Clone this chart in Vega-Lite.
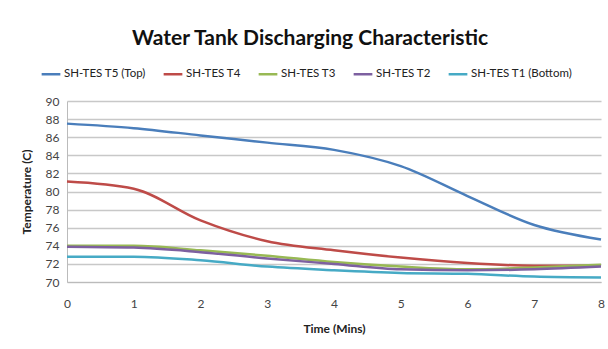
{
  "$schema": "https://vega.github.io/schema/vega-lite/v6.json",
  "width": 534,
  "height": 181,
  "autosize": "none",
  "padding": {"left": 67, "top": 101, "right": 7, "bottom": 67},
  "background": "white",
  "title": {
    "text": "Water Tank Discharging Characteristic",
    "font": "Lato",
    "fontSize": 21,
    "fontWeight": "bold",
    "color": "#111111",
    "anchor": "middle",
    "dx": -24,
    "offset": 14
  },
  "data": {
    "values": [
      {"t": 0, "s": "SH-TES T5 (Top)", "v": 87.5},
      {"t": 1, "s": "SH-TES T5 (Top)", "v": 87.0},
      {"t": 2, "s": "SH-TES T5 (Top)", "v": 86.2},
      {"t": 3, "s": "SH-TES T5 (Top)", "v": 85.4},
      {"t": 4, "s": "SH-TES T5 (Top)", "v": 84.6},
      {"t": 5, "s": "SH-TES T5 (Top)", "v": 82.8},
      {"t": 6, "s": "SH-TES T5 (Top)", "v": 79.5},
      {"t": 7, "s": "SH-TES T5 (Top)", "v": 76.3},
      {"t": 8, "s": "SH-TES T5 (Top)", "v": 74.7},
      {"t": 0, "s": "SH-TES T4", "v": 81.1},
      {"t": 1, "s": "SH-TES T4", "v": 80.3},
      {"t": 2, "s": "SH-TES T4", "v": 76.8},
      {"t": 3, "s": "SH-TES T4", "v": 74.5},
      {"t": 4, "s": "SH-TES T4", "v": 73.5},
      {"t": 5, "s": "SH-TES T4", "v": 72.7},
      {"t": 6, "s": "SH-TES T4", "v": 72.1},
      {"t": 7, "s": "SH-TES T4", "v": 71.8},
      {"t": 8, "s": "SH-TES T4", "v": 71.8},
      {"t": 0, "s": "SH-TES T3", "v": 74.0},
      {"t": 1, "s": "SH-TES T3", "v": 74.0},
      {"t": 2, "s": "SH-TES T3", "v": 73.5},
      {"t": 3, "s": "SH-TES T3", "v": 72.9},
      {"t": 4, "s": "SH-TES T3", "v": 72.2},
      {"t": 5, "s": "SH-TES T3", "v": 71.7},
      {"t": 6, "s": "SH-TES T3", "v": 71.4},
      {"t": 7, "s": "SH-TES T3", "v": 71.6},
      {"t": 8, "s": "SH-TES T3", "v": 71.9},
      {"t": 0, "s": "SH-TES T2", "v": 73.9},
      {"t": 1, "s": "SH-TES T2", "v": 73.8},
      {"t": 2, "s": "SH-TES T2", "v": 73.3},
      {"t": 3, "s": "SH-TES T2", "v": 72.6},
      {"t": 4, "s": "SH-TES T2", "v": 72.0},
      {"t": 5, "s": "SH-TES T2", "v": 71.4},
      {"t": 6, "s": "SH-TES T2", "v": 71.3},
      {"t": 7, "s": "SH-TES T2", "v": 71.4},
      {"t": 8, "s": "SH-TES T2", "v": 71.7},
      {"t": 0, "s": "SH-TES T1 (Bottom)", "v": 72.8},
      {"t": 1, "s": "SH-TES T1 (Bottom)", "v": 72.8},
      {"t": 2, "s": "SH-TES T1 (Bottom)", "v": 72.4},
      {"t": 3, "s": "SH-TES T1 (Bottom)", "v": 71.7},
      {"t": 4, "s": "SH-TES T1 (Bottom)", "v": 71.3},
      {"t": 5, "s": "SH-TES T1 (Bottom)", "v": 71.0},
      {"t": 6, "s": "SH-TES T1 (Bottom)", "v": 70.9},
      {"t": 7, "s": "SH-TES T1 (Bottom)", "v": 70.6},
      {"t": 8, "s": "SH-TES T1 (Bottom)", "v": 70.5}
    ]
  },
  "mark": {"type": "line", "interpolate": "monotone", "strokeWidth": 2.5},
  "encoding": {
    "x": {
      "field": "t",
      "type": "quantitative",
      "scale": {"domain": [0, 8], "nice": false},
      "axis": {
        "title": "Time (Mins)",
        "values": [0, 1, 2, 3, 4, 5, 6, 7, 8],
        "grid": false,
        "ticks": false,
        "labelPadding": 16,
        "labelFont": "Lato",
        "labelFontSize": 12,
        "labelColor": "#444444",
        "titleFont": "Lato",
        "titleFontSize": 12,
        "titleFontWeight": "bold",
        "titleColor": "#222222",
        "titlePadding": 14,
        "domainColor": "#bbbbbb",
        "labelFlush": false
      }
    },
    "y": {
      "field": "v",
      "type": "quantitative",
      "scale": {"domain": [70, 90], "nice": false, "zero": false},
      "axis": {
        "title": "Temperature (C)",
        "values": [70, 72, 74, 76, 78, 80, 82, 84, 86, 88, 90],
        "grid": true,
        "gridColor": "#c8c8c8",
        "gridWidth": 1.5,
        "ticks": false,
        "labelPadding": 8,
        "labelFont": "Lato",
        "labelFontSize": 12,
        "labelColor": "#444444",
        "titleFont": "Lato",
        "titleFontSize": 12,
        "titleFontWeight": "bold",
        "titleColor": "#222222",
        "titlePadding": 12,
        "domainColor": "#bbbbbb"
      }
    },
    "color": {
      "field": "s",
      "type": "nominal",
      "sort": ["SH-TES T5 (Top)", "SH-TES T4", "SH-TES T3", "SH-TES T2", "SH-TES T1 (Bottom)"],
      "scale": {
        "domain": ["SH-TES T5 (Top)", "SH-TES T4", "SH-TES T3", "SH-TES T2", "SH-TES T1 (Bottom)"],
        "range": ["#4A7EBB", "#BE4B48", "#98B954", "#7D60A0", "#46AAC5"]
      },
      "legend": {
        "title": null,
        "orient": "none",
        "direction": "horizontal",
        "legendX": -27,
        "legendY": -38,
        "symbolType": "stroke",
        "symbolSize": 350,
        "symbolStrokeWidth": 2.5,
        "labelFont": "Lato",
        "labelFontSize": 11.5,
        "labelColor": "#222222",
        "columnPadding": 12,
        "labelOffset": 2
      }
    }
  },
  "config": {"view": {"stroke": null}}
}
